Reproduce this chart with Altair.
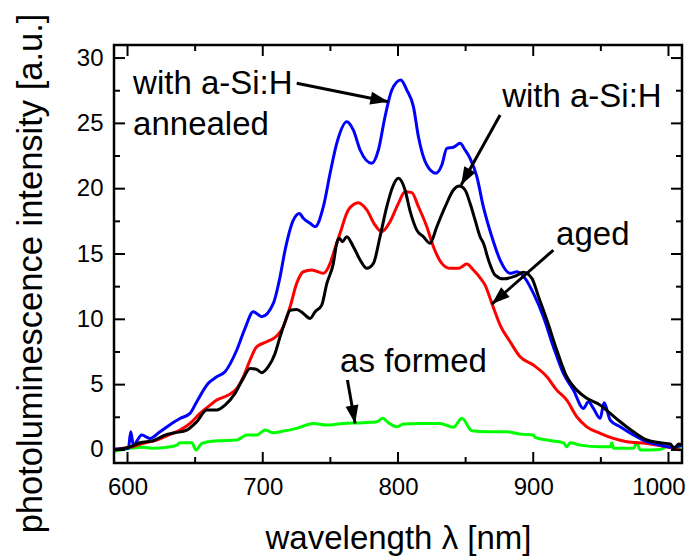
import math
import altair as alt
import pandas as pd

# ---------------- data ----------------
blue_x = [590.7, 600.6, 602.4, 604.3, 610.5, 616.6, 624.0, 632.7, 638.8, 646.2, 651.2, 659.7, 666.0, 672.1,
          680.8, 686.9, 693.0, 699.2, 707.8, 712.8, 716.5, 722.6, 727.1, 730.0, 735.0, 738.7, 744.8, 749.8,
          754.7, 762.1, 767.0, 772.0, 780.6, 785.5, 790.4, 795.4, 802.1, 806.5, 811.4, 815.1, 821.3, 828.2,
          832.4, 836.1, 841.0, 845.9, 849.6, 853.3, 858.3, 863.1, 869.4, 875.5, 882.9, 887.9, 894.0, 900.1,
          907.5, 914.9, 922.3, 929.7, 937.1, 940.8, 944.5, 949.5, 952.4, 956.9, 964.3, 974.1, 984.0, 993.9,
          1003.7, 1009.9]
blue_y = [0.07, 0.12, 1.39, 0.37, 1.14, 0.88, 1.39, 2.03, 2.41, 2.80, 3.69, 5.10, 5.60, 5.99,
          7.65, 9.31, 10.58, 10.20, 11.22, 13.26, 15.30, 17.60, 18.11, 17.73, 17.35, 17.09, 18.62, 21.18,
          23.47, 25.13, 24.49, 22.96, 21.94, 22.96, 25.51, 27.55, 28.32, 27.55, 26.28, 23.98, 21.81, 21.18,
          21.81, 23.09, 23.17, 23.47, 22.96, 22.32, 20.92, 18.62, 16.32, 14.54, 13.52, 13.64, 13.14, 12.00,
          10.20, 7.90, 5.86, 4.58, 3.18, 3.69, 3.18, 2.42, 3.61, 2.29, 1.77, 1.14, 0.63, 0.37,
          0.20, 0.37]

red_x = [590.7, 601.8, 611.7, 621.6, 630.2, 638.8, 646.2, 653.6, 661.0, 666.0, 674.5, 680.8, 685.6, 690.6,
         695.5, 702.9, 710.3, 715.2, 720.2, 725.1, 730.0, 736.2, 744.8, 749.8, 753.0, 757.2, 763.3, 770.7,
         776.9, 783.0, 788.0, 794.1, 800.3, 805.2, 810.2, 815.1, 821.3, 826.2, 832.4, 838.5, 844.7, 850.9,
         855.8, 862.0, 864.4, 869.4, 875.5, 882.9, 890.3, 900.1, 910.1, 917.4, 924.8, 932.2, 939.6, 949.5,
         959.3, 969.2, 984.0, 998.8, 1008.6]
red_y = [0.04, 0.20, 0.50, 0.76, 1.14, 1.52, 2.03, 2.80, 3.43, 3.82, 4.20, 4.71, 5.60, 6.88,
         7.90, 8.28, 8.72, 9.43, 10.96, 12.75, 13.64, 13.77, 13.52, 14.28, 15.30, 16.60, 18.37, 18.92,
         18.37, 17.22, 16.70, 17.47, 18.88, 19.77, 19.70, 18.62, 17.09, 15.56, 14.28, 13.90, 13.90, 14.23,
         13.77, 13.00, 12.62, 11.22, 9.56, 8.28, 7.13, 6.50, 5.60, 4.58, 3.82, 2.54, 1.77, 1.27,
         0.88, 0.63, 0.50, 0.24, 0.00]

black_x = [590.7, 601.8, 609.2, 619.1, 627.7, 635.1, 643.8, 651.2, 658.6, 666.0, 672.1, 679.5, 685.6, 690.6,
           695.5, 699.2, 704.1, 709.1, 712.8, 716.5, 720.2, 725.1, 730.0, 735.0, 738.7, 743.6, 747.4, 752.2,
           754.7, 756.6, 758.9, 762.1, 767.0, 772.0, 776.9, 781.8, 786.7, 791.7, 796.1, 800.3, 805.2, 808.9,
           813.9, 818.8, 823.7, 828.7, 834.9, 841.0, 845.5, 849.6, 853.3, 857.0, 860.7, 863.2, 866.9, 871.8,
           878.0, 886.6, 892.8, 899.0, 903.9, 910.1, 917.4, 924.8, 932.2, 939.6, 949.5, 955.6, 964.3, 974.1,
           984.0, 993.9, 1001.3, 1004.3, 1007.5, 1010.0]
black_y = [0.00, 0.24, 0.55, 0.70, 1.14, 1.31, 1.52, 2.16, 3.05, 3.05, 3.43, 4.33, 5.48, 6.24,
           6.17, 5.91, 6.37, 7.39, 8.66, 9.81, 10.70, 10.76, 10.45, 10.07, 10.58, 11.09, 12.75, 14.28,
           15.82, 16.20, 15.94, 16.32, 15.56, 14.54, 13.90, 14.28, 16.32, 18.62, 20.15, 20.79, 19.90, 18.30,
           16.83, 16.32, 15.82, 17.09, 18.62, 19.90, 20.20, 19.90, 18.88, 17.60, 16.32, 15.82, 14.54, 13.39,
           13.10, 13.30, 13.60, 13.14, 11.73, 9.94, 7.65, 5.60, 4.58, 3.95, 3.43, 2.92, 2.16, 1.39,
           0.76, 0.55, 0.45, 0.12, 0.45, 0.37]

green_x = [590.7, 601.8, 611.7, 619.1, 629.0, 636.4, 638.8, 647.5, 650.7, 654.9, 666.0, 680.8, 688.2, 695.5,
           701.7, 707.8, 715.2, 725.1, 737.4, 747.3, 759.6, 774.4, 784.3, 788.7, 792.9, 799.1, 804.0, 816.3,
           831.1, 841.0, 847.2, 854.6, 865.7, 880.5, 890.3, 900.1, 901.4, 910.1, 922.3, 924.8, 927.3, 934.7,
           949.5, 956.9, 958.1, 959.3, 974.1, 976.6, 979.1, 993.9, 998.8, 1009.9]
green_y = [-0.10, 0.12, 0.20, 0.12, 0.20, 0.37, 0.55, 0.55, 0.00, 0.50, 0.70, 0.76, 1.14, 1.14,
           1.52, 1.31, 1.44, 1.65, 2.03, 1.90, 2.03, 2.08, 2.16, 2.42, 2.08, 1.77, 1.98, 2.03,
           2.03, 1.73, 2.42, 1.47, 1.39, 1.39, 1.21, 1.14, 0.96, 0.76, 0.55, 0.24, 0.55, 0.37,
           0.24, 0.24, 0.55, 0.12, 0.12, 0.55, 0.00, 0.04, 0.24, 0.12]

label_texts = ["with a-Si:H", "annealed", "with a-Si:H", "aged", "as formed"]
label_x = [604.1, 604.1, 877.0, 916.9, 757.2]
label_y = [27.25, 24.1, 26.25, 15.69, 5.96]

arrow_x_from = [725.1, 875.5, 914.9, 762.6]
arrow_y_from = [28.07, 25.64, 15.30, 5.35]
arrow_x_to = [792.9, 846.7, 869.4, 768.3]
arrow_y_to = [26.66, 20.28, 11.17, 2.03]

x_major = [600, 700, 800, 900, 1000]
x_minor = [650, 750, 850, 950]
y_major = [0, 5, 10, 15, 20, 25, 30]
y_minor = [2.5, 7.5, 12.5, 17.5, 22.5, 27.5]

# ---------------- layout ----------------
W, H = 568, 418
XDOM = [590, 1010]
YDOM = [-1, 31]
FONT = "Liberation Sans"

xs = alt.Scale(domain=XDOM, nice=False, zero=False)
ys = alt.Scale(domain=YDOM, nice=False, zero=False)
x_axis = alt.Axis(values=x_major, format="d", ticks=False, domain=False, grid=False, labelFontSize=24,
                  labelFont=FONT, labelColor="black", labelPadding=12, labelFlush=False,
                  labelOffset={"condition": {"test": "datum.value == 1000", "value": -10}, "value": 0},
                  title="wavelength λ [nm]", titleFont=FONT, titleFontSize=33,
                  titleFontWeight="normal", titleColor="black", titleBaseline="alphabetic",
                  titleY=85)
y_axis = alt.Axis(values=y_major, format="d", ticks=False, domain=False, grid=False, labelFontSize=24,
                  labelFont=FONT, labelColor="black", labelPadding=11, labelFlush=False,
                  title="photoluminescence intensity [a.u.]", titleFont=FONT, titleFontSize=34.5,
                  titleFontWeight="normal", titleColor="black", titleBaseline="alphabetic",
                  titleAngle=270, titleX=-73, titleY=228, titleAlign="center")

def X(f):
    return alt.X(f, type="quantitative", scale=xs, axis=x_axis)

def Y(f):
    return alt.Y(f, type="quantitative", scale=ys, axis=y_axis)

def line_layer(xv, yv, color):
    df = pd.DataFrame({"x": xv, "y": yv})
    return alt.Chart(df).mark_line(color=color, strokeWidth=3, strokeJoin="round",
                                   interpolate="monotone", clip=True).encode(
        x=X("x"), y=Y("y"), order=alt.Order("x:Q"))

layers = [
    line_layer(green_x, green_y, "#00ff00"),
    line_layer(red_x, red_y, "#ff0000"),
    line_layer(blue_x, blue_y, "#0000ff"),
    line_layer(black_x, black_y, "#000000"),
]

# inward ticks on all four sides
def xticks(vals, ln):
    df = pd.DataFrame({"x": vals})
    b = alt.Chart(df).mark_rule(color="black", strokeWidth=2).encode(
        x=X("x"), y=alt.value(H), y2=alt.value(H - ln))
    t = alt.Chart(df).mark_rule(color="black", strokeWidth=2).encode(
        x=X("x"), y=alt.value(0), y2=alt.value(ln))
    return [b, t]

def yticks(vals, ln):
    df = pd.DataFrame({"y": vals})
    l = alt.Chart(df).mark_rule(color="black", strokeWidth=2).encode(
        y=Y("y"), x=alt.value(0), x2=alt.value(ln))
    r = alt.Chart(df).mark_rule(color="black", strokeWidth=2).encode(
        y=Y("y"), x=alt.value(W), x2=alt.value(W - ln))
    return [l, r]

layers += xticks(x_major, 11) + xticks(x_minor, 6) + yticks(y_major, 11) + yticks(y_minor, 6)

# annotations
lab_df = pd.DataFrame({"x": label_x, "y": label_y, "t": label_texts})
layers.append(alt.Chart(lab_df).mark_text(align="left", baseline="alphabetic", fontSize=33,
                                          font=FONT, color="black").encode(
    x=X("x"), y=Y("y"), text="t:N"))

sx = W / (XDOM[1] - XDOM[0])
sy = H / (YDOM[1] - YDOM[0])
angles = []
for x0, y0, x1, y1 in zip(arrow_x_from, arrow_y_from, arrow_x_to, arrow_y_to):
    dxp = (x1 - x0) * sx
    dyp = -(y1 - y0) * sy
    angles.append(math.degrees(math.atan2(dxp, -dyp)) % 360)

arr_df = pd.DataFrame({"x": arrow_x_from, "y": arrow_y_from, "x2": arrow_x_to, "y2": arrow_y_to,
                       "a": angles})
layers.append(alt.Chart(arr_df).mark_rule(color="black", strokeWidth=3).encode(
    x=X("x"), y=Y("y"), x2="x2:Q", y2="y2:Q"))
layers.append(alt.Chart(arr_df).mark_point(shape="M0,0L-0.36,1L0.36,1Z", filled=True, size=1296,
                                           color="black", opacity=1, strokeWidth=0).encode(
    x=X("x2"), y=Y("y2"), angle=alt.Angle("a:Q", scale=None)))

chart = alt.layer(*layers).properties(
    width=W, height=H,
    autosize=alt.AutoSizeParams(type="none"),
    padding={"left": 106, "top": 37, "right": 5, "bottom": 93},
    background="white",
).configure_view(stroke="black", strokeWidth=2.5)

chart.save("out.html", embed_options={"renderer": "svg", "actions": False})
